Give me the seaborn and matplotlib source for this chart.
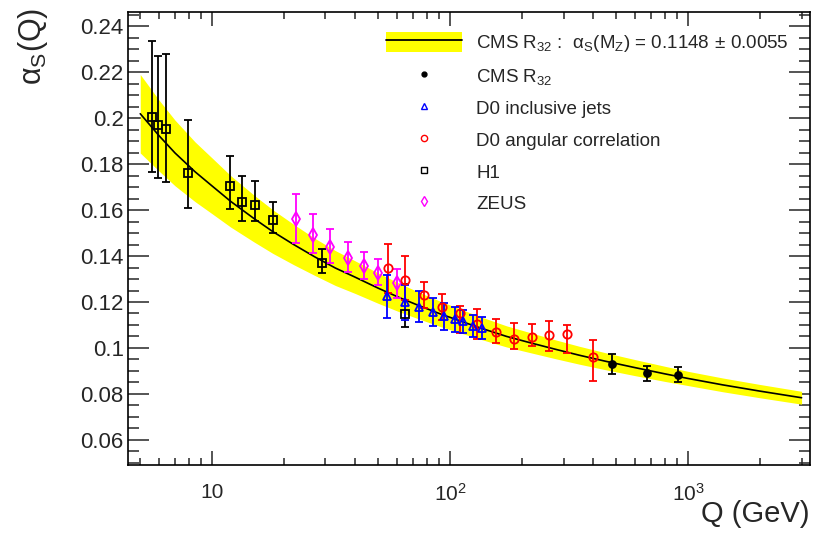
import numpy as np
import matplotlib
matplotlib.use("Agg")
import matplotlib.pyplot as plt
import seaborn as sns
from matplotlib.lines import Line2D
from matplotlib.patches import Patch
from matplotlib.ticker import FixedLocator, FixedFormatter, MultipleLocator, FormatStrFormatter

# running coupling curve and its band
fit_q = [5, 6, 7, 8.5, 10, 12, 15, 18, 22, 27, 33, 40, 50, 61.7, 75, 91.2,
         110, 135, 173, 220, 280, 350, 450, 600, 800, 1000, 1400, 2000, 3000]
fit_alpha = [0.2020, 0.1924, 0.1849, 0.1767, 0.1706, 0.1638, 0.1564, 0.1507, 0.1451, 0.1397,
             0.1348, 0.1308, 0.1260, 0.1218, 0.1182, 0.1148, 0.1118, 0.1086, 0.1050, 0.1021,
             0.0993, 0.0968, 0.0942, 0.0914, 0.0887, 0.0867, 0.0839, 0.0812, 0.0783]
fit_hi = [0.2191, 0.2079, 0.1992, 0.1897, 0.1828, 0.1750, 0.1666, 0.1602, 0.1539, 0.1478,
          0.1424, 0.1379, 0.1326, 0.1280, 0.1240, 0.1203, 0.1170, 0.1135, 0.1096, 0.1065,
          0.1034, 0.1007, 0.0979, 0.0949, 0.0920, 0.0898, 0.0869, 0.0841, 0.0811]
fit_lo = [0.1849, 0.1770, 0.1706, 0.1637, 0.1585, 0.1526, 0.1462, 0.1412, 0.1363, 0.1316,
          0.1272, 0.1237, 0.1194, 0.1156, 0.1124, 0.1093, 0.1066, 0.1037, 0.1004, 0.0978,
          0.0952, 0.0929, 0.0905, 0.0879, 0.0854, 0.0836, 0.0809, 0.0783, 0.0755]

# CMS R32
cms_q = [478, 671, 905]
cms_a = [0.0930, 0.0890, 0.0884]
cms_hi = [0.0972, 0.0921, 0.0918]
cms_lo = [0.0886, 0.0856, 0.0850]

# D0 inclusive jets
d0i_q = [54.4, 64.7, 74.3, 84.6, 94.4, 105, 114, 125, 136]
d0i_a = [0.1225, 0.1199, 0.1178, 0.1158, 0.1138, 0.1125, 0.1117, 0.1096, 0.1086]
d0i_hi = [0.1318, 0.1274, 0.1248, 0.1219, 0.1197, 0.1180, 0.1165, 0.1144, 0.1133]
d0i_lo = [0.1129, 0.1122, 0.1112, 0.1097, 0.1078, 0.1071, 0.1067, 0.1046, 0.1038]

# D0 angular correlation
d0a_q = [54.7, 64.9, 77.5, 92.5, 110, 130, 156, 186, 222, 261, 310, 398]
d0a_a = [0.1349, 0.1296, 0.1229, 0.1177, 0.1151, 0.1103, 0.1068, 0.1037, 0.1046, 0.1056, 0.1060, 0.0962]
d0a_hi = [0.1451, 0.1400, 0.1289, 0.1235, 0.1184, 0.1170, 0.1125, 0.1107, 0.1104, 0.1119, 0.1101, 0.1035]
d0a_lo = [0.1238, 0.1209, 0.1173, 0.1122, 0.1064, 0.1037, 0.1023, 0.0994, 0.1008, 0.0988, 0.0979, 0.0857]

# H1
h1_q = [5.58, 5.95, 6.43, 7.9, 11.9, 13.4, 15.2, 18.1, 29.1, 64.7]
h1_a = [0.2005, 0.1971, 0.1954, 0.1763, 0.1705, 0.1636, 0.1624, 0.1556, 0.1370, 0.1147]
h1_hi = [0.2337, 0.2272, 0.2280, 0.1993, 0.1837, 0.1749, 0.1726, 0.1636, 0.1431, 0.1277]
h1_lo = [0.1768, 0.1741, 0.1724, 0.1611, 0.1604, 0.1553, 0.1553, 0.1502, 0.1325, 0.1091]

# ZEUS
zeus_q = [22.6, 26.6, 31.3, 37.4, 43.5, 50.0, 60.1]
zeus_a = [0.1560, 0.1492, 0.1441, 0.1393, 0.1356, 0.1326, 0.1281]
zeus_hi = [0.1670, 0.1582, 0.1519, 0.1460, 0.1419, 0.1386, 0.1343]
zeus_lo = [0.1456, 0.1412, 0.1371, 0.1332, 0.1299, 0.1273, 0.1216]

x_major = [10, 100, 1000]
x_major_labels = ["10", "$10^{2}$", "$10^{3}$"]

sns.set_style("ticks")
plt.rcParams["font.family"] = ["Liberation Sans", "DejaVu Sans"]
plt.rcParams["mathtext.fontset"] = "custom"
plt.rcParams["mathtext.rm"] = "Liberation Sans"
plt.rcParams["mathtext.it"] = "Liberation Sans:italic"
plt.rcParams["mathtext.sf"] = "Liberation Sans"

fig = plt.figure(figsize=(8.13, 5.34), dpi=100)
ax = fig.add_axes([0.1574, 0.1292, 0.8389, 0.8483])

ax.fill_between(fit_q, fit_lo, fit_hi, color="#ffff00", lw=0, zorder=1)
sns.lineplot(x=fit_q, y=fit_alpha, color="black", lw=1.2, ax=ax, zorder=2)


def points(q, a, hi, lo, color, marker, ms, filled=False):
    a = np.array(a)
    yerr = [a - np.array(lo), np.array(hi) - a]
    ax.errorbar(q, a, yerr=yerr, fmt=marker, color=color, ms=ms,
                mfc=color if filled else "none", mec=color, mew=1.3,
                elinewidth=1.3, capsize=3, capthick=1.3, zorder=3)


points(h1_q, h1_a, h1_hi, h1_lo, "black", "s", 5.5)
points(zeus_q, zeus_a, zeus_hi, zeus_lo, "#ff00ff", "d", 7)
points(d0a_q, d0a_a, d0a_hi, d0a_lo, "#ff0000", "o", 6)
points(d0i_q, d0i_a, d0i_hi, d0i_lo, "#0000ff", "^", 6)
points(cms_q, cms_a, cms_hi, cms_lo, "black", "o", 5, filled=True)

ax.set_xscale("log")
ax.set_xlim(4.44, 3255)
ax.set_ylim(0.049, 0.2463)

ax.xaxis.set_major_locator(FixedLocator(x_major))
ax.xaxis.set_major_formatter(FixedFormatter(x_major_labels))
minors = [m * d for d in (1, 10, 100, 1000) for m in range(2, 10)]
ax.xaxis.set_minor_locator(FixedLocator(minors))
ax.xaxis.set_minor_formatter(FixedFormatter([""] * len(minors)))
ax.yaxis.set_major_locator(MultipleLocator(0.02))
ax.yaxis.set_minor_locator(MultipleLocator(0.005))
ax.yaxis.set_major_formatter(FormatStrFormatter("%g"))

ax.tick_params(axis="y", which="major", direction="in", length=15, width=1.1,
               labelsize=16, pad=3, right=True)
ax.tick_params(axis="y", which="minor", direction="in", length=8, width=1.1, right=True)
ax.tick_params(axis="x", which="major", direction="in", length=10, width=1.1,
               labelsize=15, pad=13, top=True)
ax.tick_params(axis="x", which="minor", direction="in", length=5, width=1.1, top=True)
for s in ax.spines.values():
    s.set_linewidth(1.2)
    s.set_color("black")

ax.set_xlabel("Q (GeV)", fontsize=21, loc="right")
ax.xaxis.set_label_coords(1.0, -0.077)
ax.set_ylabel(r"$\mathrm{\alpha}_{\rm S}$(Q)", fontsize=22, loc="top")
ax.yaxis.set_label_coords(-0.115, 1.01)

handles = [
    (Patch(facecolor="#ffff00", edgecolor="none"), Line2D([], [], color="black", lw=1.3)),
    Line2D([], [], ls="none", marker="o", color="black", ms=3.5),
    Line2D([], [], ls="none", marker="^", mfc="none", mec="#0000ff", mew=1.0, ms=4.5),
    Line2D([], [], ls="none", marker="o", mfc="none", mec="#ff0000", mew=1.0, ms=4.5),
    Line2D([], [], ls="none", marker="s", mfc="none", mec="black", mew=1.0, ms=4),
    Line2D([], [], ls="none", marker="d", mfc="none", mec="#ff00ff", mew=1.0, ms=5),
]
labels = [
    r"CMS R$_{32}$ :  $\mathrm{\alpha}_{\rm S}$(M$_{\rm Z}$) = 0.1148$\,\pm\,$0.0055",
    r"CMS R$_{32}$",
    "D0 inclusive jets",
    "D0 angular correlation",
    "H1",
    "ZEUS",
]
ax.legend(handles, labels, loc="upper left", bbox_to_anchor=(0.378, 0.955),
          frameon=False, fontsize=13.5, handlelength=4.05, handleheight=1.2,
          handletextpad=0.78, labelspacing=0.62, borderpad=0, borderaxespad=0)

fig.savefig("out.png", dpi=100)
